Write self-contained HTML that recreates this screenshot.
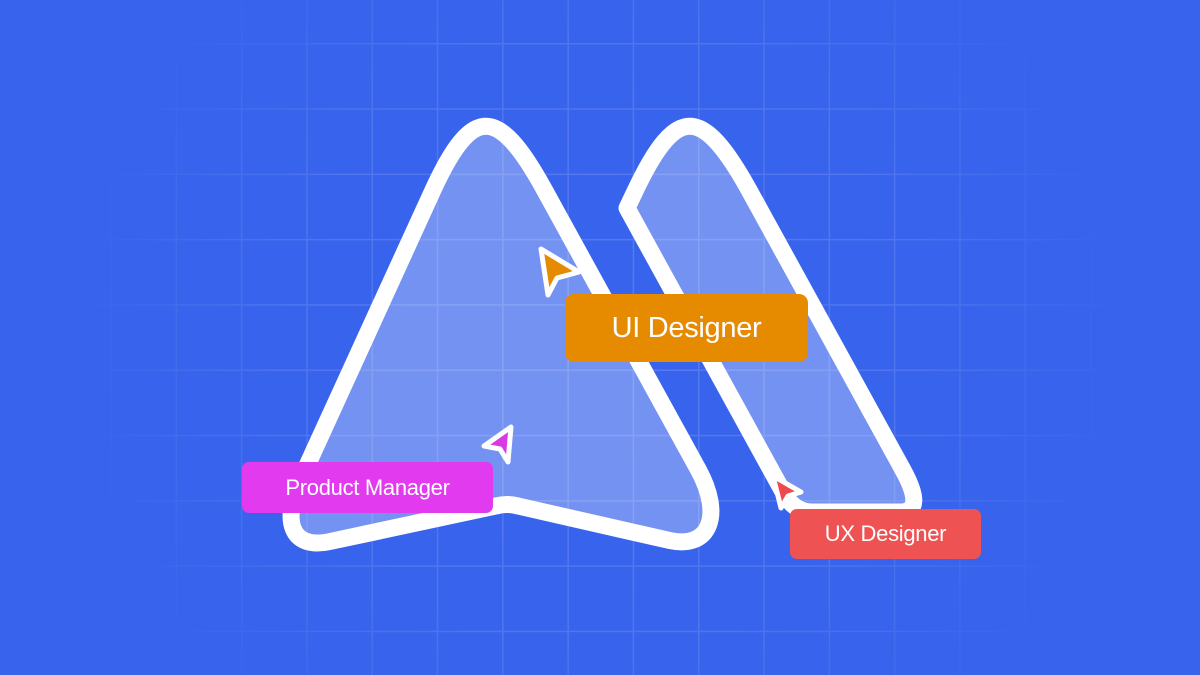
<!DOCTYPE html>
<html><head><meta charset="utf-8"><style>
html,body{margin:0;padding:0;width:1200px;height:675px;overflow:hidden;background:#3863ec;font-family:"Liberation Sans",sans-serif}
.lbl{position:absolute;color:#fff;display:flex;align-items:center;justify-content:center;border-radius:9px;font-family:"Liberation Sans",sans-serif;letter-spacing:-0.3px}
</style></head><body>
<svg width="1200" height="675" style="position:absolute;left:0;top:0">
<defs>
<radialGradient id="rg" cx="600" cy="340" r="560" gradientUnits="userSpaceOnUse">
<stop offset="0" stop-color="#fff" stop-opacity="1"/><stop offset="0.55" stop-color="#fff" stop-opacity="0.75"/><stop offset="0.95" stop-color="#fff" stop-opacity="0"/>
</radialGradient>
<mask id="m"><rect width="1200" height="675" fill="url(#rg)"/></mask>
<pattern id="g" x="45" y="43" width="65.3" height="65.3" patternUnits="userSpaceOnUse">
<path d="M0 0H65.3M0 0V65.3" stroke="#fff" stroke-opacity="0.16" stroke-width="3" fill="none"/>
</pattern>
</defs>
<rect width="1200" height="675" fill="#3863ec"/>
<rect width="1200" height="675" fill="url(#g)" mask="url(#m)"/>
<g stroke="#fff" stroke-width="17" stroke-linejoin="round" fill="rgba(255,255,255,0.3)">
<path d="M433,190 C472,105 498,105 544.5,190 L698.5,470 C723,515 710,549 670,540.6 L518,506 Q507,503 496,506 L330,541.5 C290,550 282,520 300.5,480 Z"/>
<path d="M627,208 L635.6,190 C676,105 702,105 749,190 L903,470 Q926,512 900,512 L812,512 Q793,512 782,490 Z"/>
</g>
<g stroke="#fff" stroke-width="5" stroke-linejoin="round">
<path d="M541,249 L579,272 L557,278 L548,295 Z" fill="#e68a00"/>
<path d="M511,427 L484,446 L500,449 L508,462 Z" fill="#d83ae8"/>
<path d="M773,476 L801,492 L788,496 L781,508 Z" fill="#ee4a4e"/>
</g>
</svg>
<div class="lbl" style="left:565px;top:294px;width:243px;height:68px;background:#e68a00;font-size:29px">UI Designer</div>
<div class="lbl" style="left:242px;top:462px;width:251px;height:51px;background:#e23bef;font-size:22px;border-radius:7px">Product Manager</div>
<div class="lbl" style="left:790px;top:509px;width:191px;height:50px;background:#ee5253;font-size:22px;border-radius:7px">UX Designer</div>
</body></html>
